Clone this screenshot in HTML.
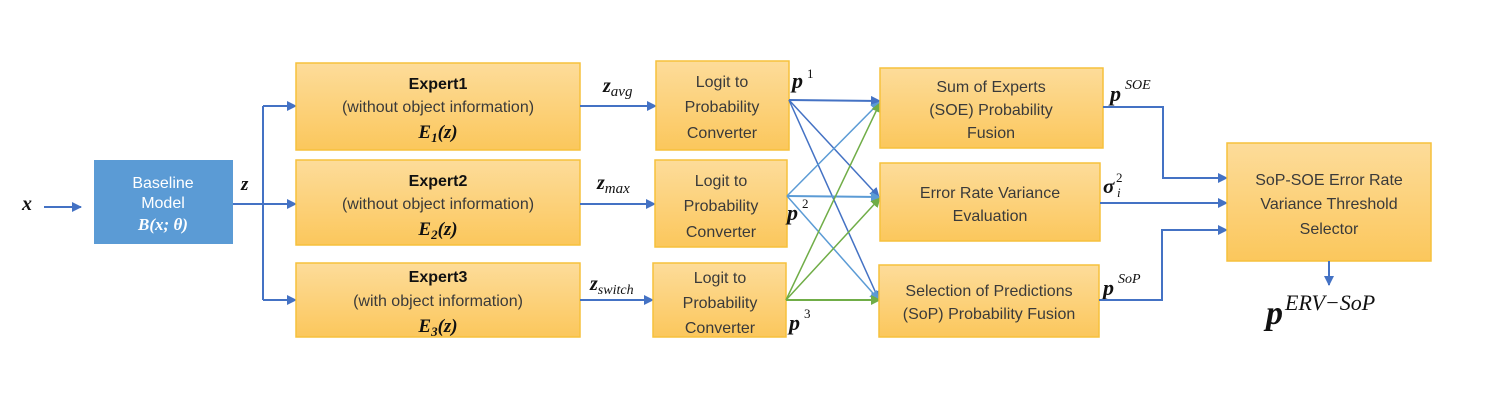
<!DOCTYPE html>
<html><head><meta charset="utf-8"><style>
html,body{margin:0;padding:0;background:#fff;width:1486px;height:415px;overflow:hidden}
svg{display:block}
.bx{fill:url(#og);stroke:#f6c13c;stroke-width:1.5}
.t{font-family:"Liberation Sans",sans-serif;font-size:16px;fill:#3a3a3a;text-anchor:middle}
.tb{font-weight:bold;fill:#111}
.m{font-family:"Liberation Serif",serif;font-style:italic;font-weight:bold;fill:#111}
.ln{stroke:#4472c4;stroke-width:2;fill:none}
</style></head><body>
<svg width="1486" height="415" viewBox="0 0 1486 415">
<defs>
<linearGradient id="og" x1="0" y1="0" x2="0" y2="1"><stop offset="0" stop-color="#fddc9a"/><stop offset="1" stop-color="#fbc75c"/></linearGradient>
<marker id="ab" markerWidth="10" markerHeight="10" refX="9" refY="5" orient="auto" markerUnits="userSpaceOnUse"><path d="M0,0L10,5L0,10z" fill="#4472c4"/></marker>
<marker id="al" markerWidth="10" markerHeight="10" refX="9" refY="5" orient="auto" markerUnits="userSpaceOnUse"><path d="M0,0L10,5L0,10z" fill="#5b9bd5"/></marker>
<marker id="ag" markerWidth="10" markerHeight="10" refX="9" refY="5" orient="auto" markerUnits="userSpaceOnUse"><path d="M0,0L10,5L0,10z" fill="#70ad47"/></marker>
</defs>
<text x="22" y="210" class="m" font-size="20">x</text>
<line x1="44" y1="207" x2="81" y2="207" class="ln" marker-end="url(#ab)"/>
<g>
<rect x="94" y="160" width="139" height="84" fill="#5b9bd5"/>
<text x="163" y="188" class="t" font-size="14" style="fill:#fff">Baseline</text>
<text x="163" y="208" class="t" font-size="14" style="fill:#fff">Model</text>
<text x="163" y="230" class="m" font-size="17" text-anchor="middle" style="fill:#fff">B(x; θ)</text>
</g>
<text x="241" y="190" class="m" font-size="19">z</text>
<path d="M233,204H263M263,106V300" class="ln"/>
<line x1="263" y1="106" x2="296" y2="106" class="ln" marker-end="url(#ab)"/>
<line x1="263" y1="204" x2="296" y2="204" class="ln" marker-end="url(#ab)"/>
<line x1="263" y1="300" x2="296" y2="300" class="ln" marker-end="url(#ab)"/>
<g>
<rect x="296" y="63" width="284" height="87" class="bx"/>
<text x="438" y="89" class="t tb">Expert1</text>
<text x="438" y="112" class="t">(without object information)</text>
<text x="438" y="138" class="m" font-size="19" text-anchor="middle">E<tspan font-size="13" dy="4">1</tspan><tspan dy="-4">(z)</tspan></text>
</g>
<g>
<rect x="296" y="160" width="284" height="85" class="bx"/>
<text x="438" y="186" class="t tb">Expert2</text>
<text x="438" y="209" class="t">(without object information)</text>
<text x="438" y="235" class="m" font-size="19" text-anchor="middle">E<tspan font-size="13" dy="4">2</tspan><tspan dy="-4">(z)</tspan></text>
</g>
<g>
<rect x="296" y="263" width="284" height="74" class="bx"/>
<text x="438" y="282" class="t tb">Expert3</text>
<text x="438" y="306" class="t">(with object information)</text>
<text x="438" y="332" class="m" font-size="19" text-anchor="middle">E<tspan font-size="13" dy="4">3</tspan><tspan dy="-4">(z)</tspan></text>
</g>
<text x="603" y="92" class="m" font-size="20">z<tspan font-size="15" dy="4" font-weight="normal">avg</tspan></text>
<text x="597" y="189" class="m" font-size="20">z<tspan font-size="15" dy="4" font-weight="normal">max</tspan></text>
<text x="590" y="290" class="m" font-size="20">z<tspan font-size="14" dy="4" font-weight="normal">switch</tspan></text>
<line x1="580" y1="106" x2="656" y2="106" class="ln" marker-end="url(#ab)"/>
<line x1="580" y1="204" x2="655" y2="204" class="ln" marker-end="url(#ab)"/>
<line x1="580" y1="300" x2="653" y2="300" class="ln" marker-end="url(#ab)"/>
<g>
<rect x="656" y="61" width="133" height="89" class="bx"/>
<text x="722" y="87" class="t" font-size="18">Logit to</text>
<text x="722" y="112" class="t" font-size="18">Probability</text>
<text x="722" y="138" class="t" font-size="18">Converter</text>
</g>
<g>
<rect x="655" y="160" width="132" height="87" class="bx"/>
<text x="721" y="186" class="t" font-size="18">Logit to</text>
<text x="721" y="211" class="t" font-size="18">Probability</text>
<text x="721" y="237" class="t" font-size="18">Converter</text>
</g>
<g>
<rect x="653" y="263" width="133" height="74" class="bx"/>
<text x="720" y="283" class="t" font-size="18">Logit to</text>
<text x="720" y="308" class="t" font-size="18">Probability</text>
<text x="720" y="333" class="t" font-size="18">Converter</text>
</g>
<text x="792" y="88" class="m" font-size="22">p</text>
<text x="807" y="78" font-family="Liberation Serif,serif" font-size="13" fill="#111">1</text>
<text x="787" y="220" class="m" font-size="22">p</text>
<text x="802" y="208" font-family="Liberation Serif,serif" font-size="13" fill="#111">2</text>
<text x="789" y="330" class="m" font-size="22">p</text>
<text x="804" y="318" font-family="Liberation Serif,serif" font-size="13" fill="#111">3</text>
<g>
<line x1="789" y1="100" x2="880" y2="101" stroke="#4472c4" stroke-width="2" marker-end="url(#ab)"/>
<line x1="789" y1="100" x2="879" y2="197" stroke="#4472c4" stroke-width="1.5" marker-end="url(#ab)"/>
<line x1="789" y1="100" x2="879" y2="300" stroke="#4472c4" stroke-width="1.5" marker-end="url(#ab)"/>
<line x1="787" y1="196" x2="880" y2="102" stroke="#5b9bd5" stroke-width="1.5" marker-end="url(#al)"/>
<line x1="787" y1="196" x2="880" y2="197" stroke="#5b9bd5" stroke-width="2" marker-end="url(#al)"/>
<line x1="787" y1="196" x2="879" y2="300" stroke="#5b9bd5" stroke-width="1.5" marker-end="url(#al)"/>
<line x1="786" y1="300" x2="880" y2="103" stroke="#70ad47" stroke-width="1.5" marker-end="url(#ag)"/>
<line x1="786" y1="300" x2="880" y2="198" stroke="#70ad47" stroke-width="1.5" marker-end="url(#ag)"/>
<line x1="786" y1="300" x2="880" y2="300" stroke="#70ad47" stroke-width="2" marker-end="url(#ag)"/>
</g>
<g>
<rect x="880" y="68" width="223" height="80" class="bx"/>
<text x="991" y="92" class="t" font-size="16">Sum of Experts</text>
<text x="991" y="115" class="t" font-size="16">(SOE) Probability</text>
<text x="991" y="138" class="t" font-size="16">Fusion</text>
</g>
<g>
<rect x="880" y="163" width="220" height="78" class="bx"/>
<text x="990" y="198" class="t" font-size="16">Error Rate Variance</text>
<text x="990" y="221" class="t" font-size="16">Evaluation</text>
</g>
<g>
<rect x="879" y="265" width="220" height="72" class="bx"/>
<text x="989" y="296" class="t" font-size="16">Selection of Predictions</text>
<text x="989" y="319" class="t" font-size="16">(SoP) Probability Fusion</text>
</g>
<text x="1110" y="101" class="m" font-size="22">p</text>
<text x="1125" y="89" font-family="Liberation Serif,serif" font-style="italic" font-size="14" fill="#111">SOE</text>
<text x="1103" y="193" class="m" font-size="21">σ</text>
<text x="1117" y="197" font-family="Liberation Serif,serif" font-style="italic" font-size="13" fill="#111">i</text>
<text x="1116" y="182" font-family="Liberation Serif,serif" font-size="13" fill="#111">2</text>
<text x="1103" y="295" class="m" font-size="22">p</text>
<text x="1118" y="283" font-family="Liberation Serif,serif" font-style="italic" font-size="14" fill="#111">SoP</text>
<path d="M1103,107H1163V178H1227" class="ln" marker-end="url(#ab)"/>
<line x1="1100" y1="203" x2="1227" y2="203" class="ln" marker-end="url(#ab)"/>
<path d="M1099,300H1162V230H1227" class="ln" marker-end="url(#ab)"/>
<g>
<rect x="1227" y="143" width="204" height="118" class="bx"/>
<text x="1329" y="185" class="t" font-size="17">SoP-SOE  Error Rate</text>
<text x="1329" y="209" class="t" font-size="17">Variance Threshold</text>
<text x="1329" y="234" class="t" font-size="17">Selector</text>
</g>
<line x1="1329" y1="261" x2="1329" y2="285" class="ln" marker-end="url(#ab)"/>
<text x="1266" y="324" class="m" font-size="34">p</text>
<text x="1285" y="310" font-family="Liberation Serif,serif" font-style="italic" font-size="22" fill="#111">ERV−SoP</text>
</svg>
</body></html>
